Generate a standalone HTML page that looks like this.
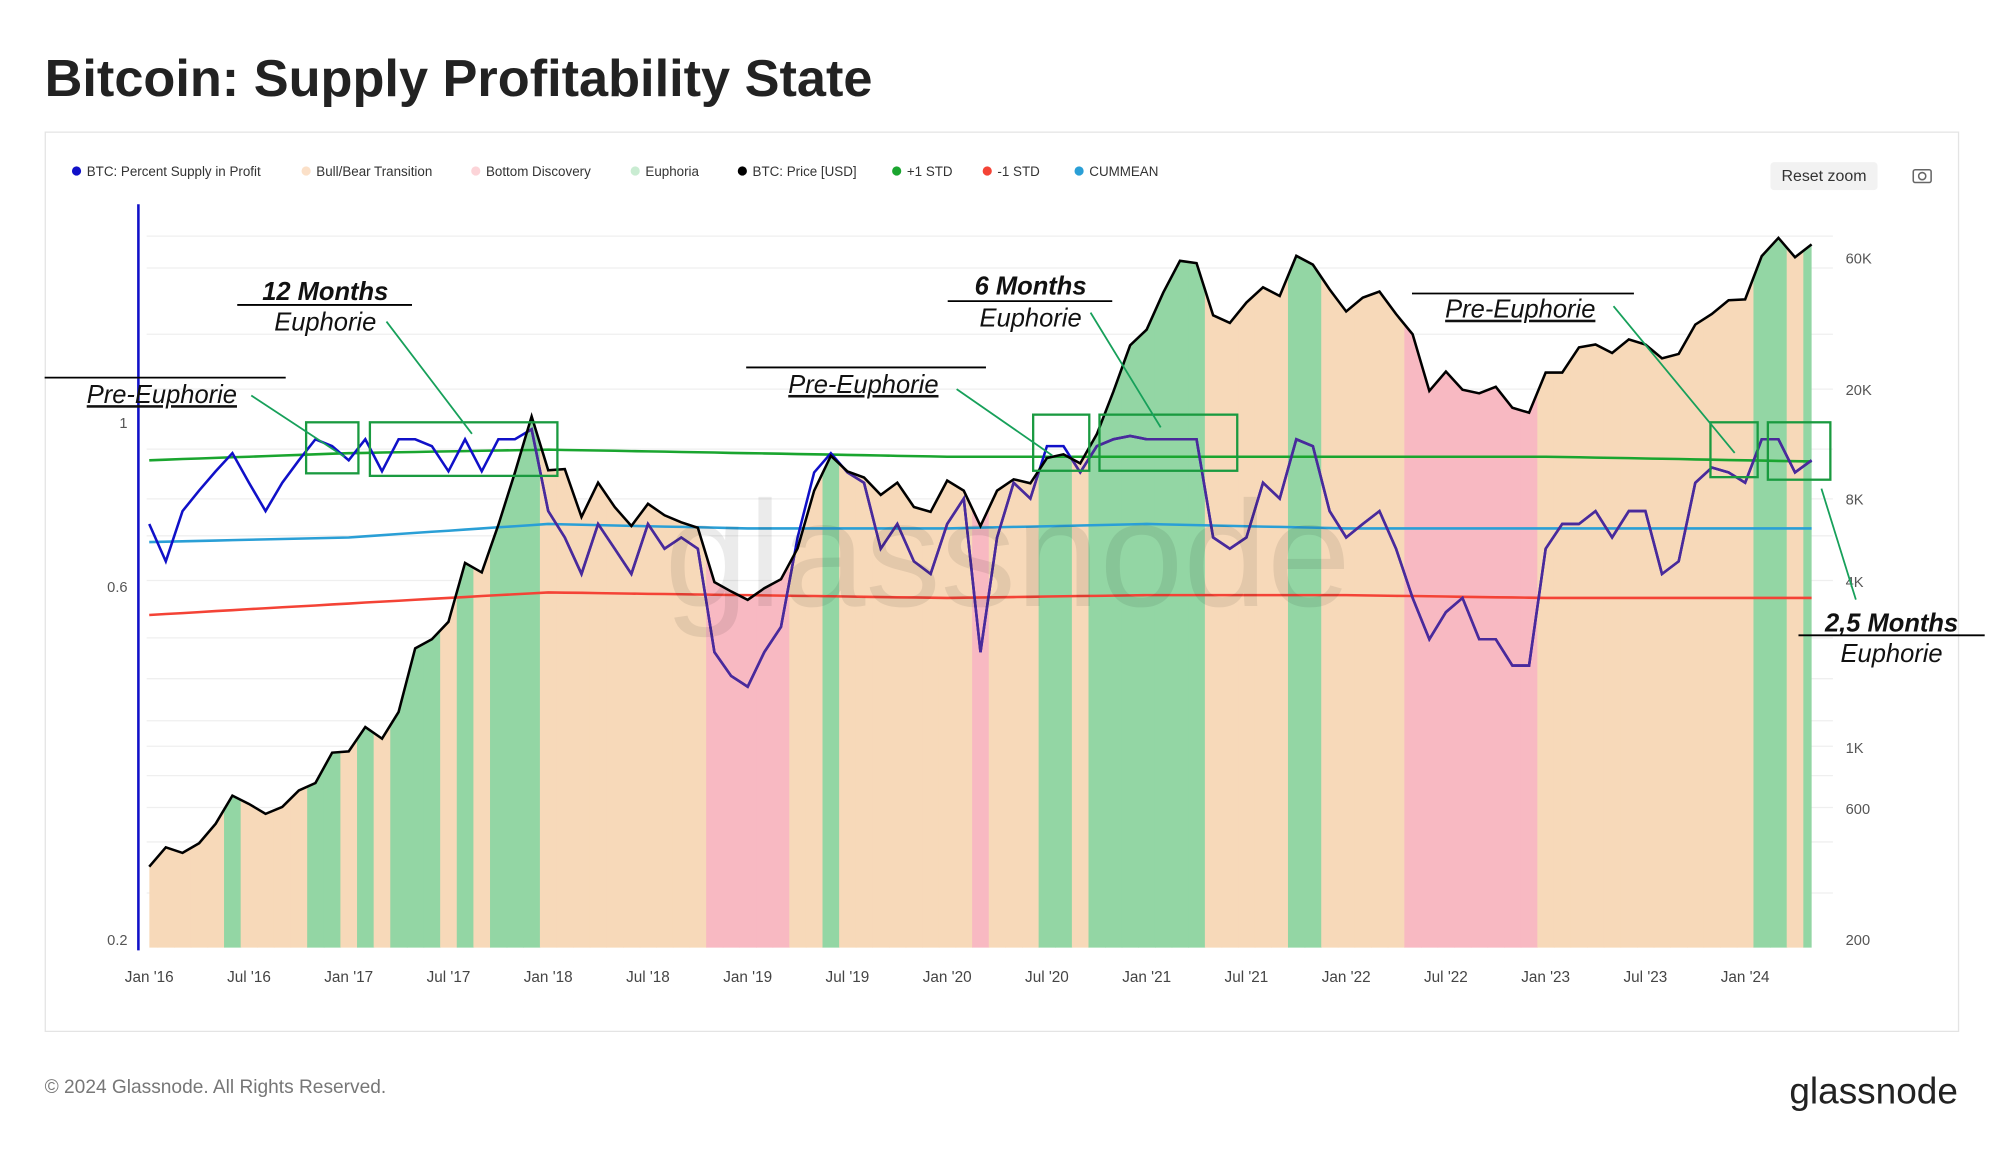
<!DOCTYPE html>
<html><head><meta charset="utf-8"><style>
html,body{margin:0;padding:0;background:#fff;width:2000px;height:1152px;overflow:hidden}
svg{display:block;font-family:"Liberation Sans",sans-serif}
</style></head><body>
<svg id="c" width="2000" height="1152" viewBox="0 0 1568 903" xmlns="http://www.w3.org/2000/svg">
<text x="35" y="75" font-size="41" font-weight="bold" fill="#222">Bitcoin: Supply Profitability State</text>
<rect x="35.5" y="103.5" width="1500" height="705" fill="none" stroke="#e4e4e4"/>
<g id="legend" font-size="10.5" fill="#333"></g>
<rect x="1388" y="127" width="84" height="22" rx="3" fill="#f2f2f2"/>
<text x="1430" y="142" font-size="12.5" fill="#333" text-anchor="middle">Reset zoom</text>
<g fill="none" stroke="#666" stroke-width="1.2"><rect x="1500" y="133" width="14" height="10" rx="1.5"/><circle cx="1507" cy="138" r="2.8"/></g>
<g id="grid"></g>
<g id="plot"></g>
<text x="790" y="475" font-size="118" fill="#000" fill-opacity="0.08" text-anchor="middle">glassnode</text>
<g id="ann"></g>
<text x="35" y="857" font-size="15" fill="#777">© 2024 Glassnode. All Rights Reserved.</text>
<text x="1535" y="865" font-size="29" fill="#222" text-anchor="end">glassnode</text>
</svg>
<script>
const NS="http://www.w3.org/2000/svg";
const xLabels=["Jan '16","Jul '16","Jan '17","Jul '17","Jan '18","Jul '18","Jan '19","Jul '19","Jan '20","Jul '20","Jan '21","Jul '21","Jan '22","Jul '22","Jan '23","Jul '23","Jan '24"];
const leftTicks=[1,0.6,0.2];
const leftTickLabels=["1","0.6","0.2"];
const rightTicks=[60000,20000,8000,4000,1000,600,200];
const rightTickLabels=["60K","20K","8K","4K","1K","600","200"];
const price=[370,435,415,450,530,670,625,575,610,700,745,960,
970,1190,1080,1350,2300,2480,2870,4700,4340,6450,10000,16000,
10200,10300,6900,9200,7500,6400,7700,7000,6600,6300,4000,3700,
3450,3800,4100,5300,8600,11500,10100,9600,8300,9200,7500,7200,
9350,8600,6400,8600,9450,9150,11300,11650,10800,13800,19700,29000,
33100,45100,58800,57700,37300,35000,41500,47100,43800,61300,57000,46300,
38500,43200,45500,37700,31800,19800,23300,20000,19400,20500,17200,16500,
23100,23100,28500,29200,27200,30500,29200,26000,27000,34500,37700,42300,
42600,61200,71300,60600,67500];
const pct=[0.73,0.65,0.76,0.81,0.86,0.91,0.83,0.76,0.83,0.89,0.95,0.93,
0.89,0.95,0.86,0.95,0.95,0.93,0.86,0.95,0.86,0.95,0.95,0.98,
0.76,0.70,0.625,0.73,0.676,0.625,0.73,0.676,0.70,0.676,0.49,0.455,
0.44,0.49,0.53,0.70,0.857,0.91,0.857,0.83,0.676,0.73,0.65,0.625,
0.73,0.79,0.49,0.70,0.83,0.79,0.93,0.93,0.857,0.93,0.95,0.96,
0.95,0.95,0.95,0.95,0.70,0.676,0.70,0.83,0.79,0.95,0.93,0.76,
0.70,0.73,0.76,0.676,0.58,0.51,0.555,0.58,0.51,0.51,0.47,0.47,
0.676,0.73,0.73,0.76,0.70,0.76,0.76,0.625,0.65,0.83,0.87,0.857,
0.83,0.95,0.95,0.857,0.89];
const stdPlusYears=[0.89,0.91,0.92,0.91,0.9,0.9,0.9,0.9,0.89];
const cummeanYears=[0.69,0.70,0.73,0.72,0.72,0.73,0.72,0.72,0.72];
const stdMinusYears=[0.55,0.57,0.59,0.585,0.58,0.585,0.585,0.58,0.58];

const X=t=>117+t*78.2/6;
const YL=v=>737-252*Math.log(v/0.2);
const YR=p=>737-93.7*Math.log(p/200);
function mk(tag,attrs,parent){const e=document.createElementNS(NS,tag);for(const k in attrs)e.setAttribute(k,attrs[k]);parent.appendChild(e);return e;}
const interp=(arr,t)=>{const y=t/12;const i=Math.min(Math.floor(y),arr.length-2);const f=y-i;return arr[i]*(1-f)+arr[i+1]*f;};

const legend=document.getElementById('legend');
const legItems=[["BTC: Percent Supply in Profit","#1010c8",56],["Bull/Bear Transition","#fbe0c8",236],["Bottom Discovery","#fcd4d8",369],["Euphoria","#c9ecd2",494],["BTC: Price [USD]","#000",578],["+1 STD","#1aa52f",699],["-1 STD","#f44336",770],["CUMMEAN","#2a9fd6",842]];
legItems.forEach(it=>{const g=mk('g',{},legend);


mk('circle',{cx:it[2]+4,cy:134,r:3.6,fill:it[1]},g);const t=mk('text',{x:it[2]+12,y:138},g);t.textContent=it[0];});

const grid=document.getElementById('grid');
[185,210,262,305,352,391,420,455,500,532,565,585,608,633,660,700].forEach(y=>mk('line',{x1:115,x2:1437,y1:y,y2:y,stroke:'#efefef','stroke-width':1},grid));
mk('line',{x1:108.5,x2:108.5,y1:160,y2:745,stroke:'#1010c8','stroke-width':2},grid);
leftTicks.forEach((v,i)=>{const t=mk('text',{x:100,y:YL(v)+4,'font-size':11.5,fill:'#555','text-anchor':'end'},grid);


t.textContent=leftTickLabels[i];});
rightTicks.forEach((v,i)=>{const t=mk('text',{x:1447,y:YR(v)+4,'font-size':11.5,fill:'#555'},grid);


t.textContent=rightTickLabels[i];});
xLabels.forEach((l,i)=>{const t=mk('text',{x:X(i*6),y:770,'font-size':12,fill:'#444','text-anchor':'middle'},grid);


t.textContent=l;});

const plot=document.getElementById('plot');
const n=price.length;
let pricePath='',areaPath='M'+X(0)+',743';
price.forEach((p,i)=>{pricePath+=(i?'L':'M')+X(i).toFixed(1)+','+YR(p).toFixed(1);areaPath+='L'+X(i).toFixed(1)+','+YR(p).toFixed(1);});
areaPath+='L'+X(n-1)+',743Z';
const defs=mk('defs',{},plot);const cp=mk('clipPath',{id:'under'},defs);mk('path',{d:areaPath},cp);
const bands=mk('g',{'clip-path':'url(#under)'},plot);


pct.forEach((v,i)=>{const sp=interp(stdPlusYears,i),sm=interp(stdMinusYears,i);
let col=v>=sp?'#93d6a4':(v<=sm?'#f8b9c2':'#f7d9b9');
const r=mk('rect',{x:X(i-0.5),y:150,width:X(1)-X(0)+0.5,height:600,fill:col},bands);

});
function linePath(arr){let d='';for(let t=0;t<=n-1;t+=1){d+=(t?'L':'M')+X(t).toFixed(1)+','+YL(interp(arr,t)).toFixed(1);}return d;}
const sp=mk('path',{d:linePath(stdPlusYears),fill:'none',stroke:'#1aa52f','stroke-width':2},plot);

const cm=mk('path',{d:linePath(cummeanYears),fill:'none',stroke:'#2a9fd6','stroke-width':2},plot);

const sm=mk('path',{d:linePath(stdMinusYears),fill:'none',stroke:'#f44336','stroke-width':2},plot);

let pctPath='';pct.forEach((v,i)=>{pctPath+=(i?'L':'M')+X(i).toFixed(1)+','+YL(v).toFixed(1);});
const pl=mk('path',{d:pctPath,fill:'none',stroke:'#1010c8','stroke-width':2},plot);

const pl2=mk('path',{d:pctPath,fill:'none',stroke:'#4a2a9a','stroke-width':2,'clip-path':'url(#under)'},plot);

const pr=mk('path',{d:pricePath,fill:'none',stroke:'#000','stroke-width':2},plot);


const ann=document.getElementById('ann');
const G='#17a05a';
[[240,331,41,40],[290,331,147,42],[810,325,44,44],[862,325,108,44],[1341,331,37,43],[1386,331,49,45]].forEach(b=>{
const r=mk('rect',{x:b[0],y:b[1],width:b[2],height:b[3],fill:'none',stroke:'#1a9a40','stroke-width':1.8},ann);
});
[[197,310,270,358],[303,252,370,340],[855,245,910,335],[750,305,825,357],[1265,240,1360,355],[1455,470,1428,383]].forEach(a=>{
const l=mk('line',{x1:a[0],y1:a[1],x2:a[2],y2:a[3],stroke:G,'stroke-width':1.4},ann);
});
[[296,35,224],[239,186,323],[236,743,872],[288,585,773],[230,1107,1281],[498,1410,1556]].forEach(l=>{
const e=mk('line',{x1:l[1],x2:l[2],y1:l[0],y2:l[0],stroke:'#000','stroke-width':1.4},ann);
});
const texts=[["Pre-Euphorie",68,316,false,true],["12 Months",255,235,true,false],["Euphorie",255,259,false,false],["6 Months",808,231,true,false],["Euphorie",808,256,false,false],["Pre-Euphorie",618,308,false,true],["Pre-Euphorie",1133,249,false,true],["2,5 Months",1483,495,true,false],["Euphorie",1483,519,false,false]];
texts.forEach(t=>{const e=mk('text',{x:t[1],y:t[2],'font-size':20,'font-style':'italic','font-weight':t[3]?'bold':'normal',fill:'#111','text-anchor':t[4]?'start':'middle','text-decoration':t[4]?'underline':'none'},ann);
e.textContent=t[0];});
</script>
</body></html>
